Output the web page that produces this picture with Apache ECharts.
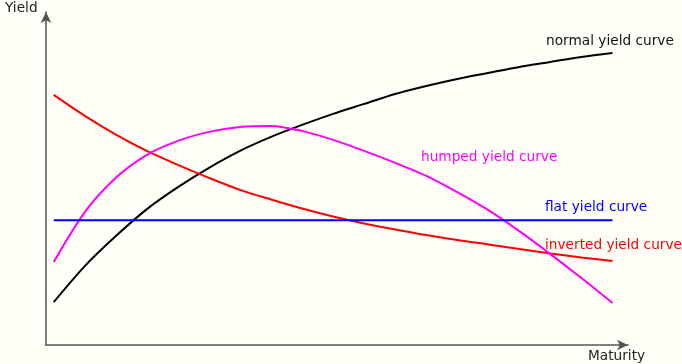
<!DOCTYPE html>
<html>
<head>
<meta charset="utf-8">
<script src="https://cdn.jsdelivr.net/npm/echarts@6/dist/echarts.min.js"></script>
<style>
  html, body { margin: 0; padding: 0; background: #fffff8; }
  #chart { width: 682px; height: 364px; }
</style>
</head>
<body>
<div id="chart"></div>
<script>
// maturity points (years) shared by all curves
var maturity = [0.4, 2.0, 3.6, 5.2, 6.8, 8.4, 10.0, 11.6, 13.2, 14.8, 16.4, 18.0, 19.6, 21.2, 22.8, 24.4, 26.0, 27.6, 29.2];
var normalYield   = [1.29, 2.37, 3.27, 4.08, 4.74, 5.32, 5.83, 6.25, 6.61, 6.94, 7.24, 7.54, 7.78, 7.99, 8.17, 8.35, 8.50, 8.65, 8.77];
var invertedYield = [7.51, 6.88, 6.32, 5.83, 5.41, 5.02, 4.66, 4.37, 4.10, 3.86, 3.65, 3.47, 3.30, 3.15, 3.02, 2.88, 2.75, 2.63, 2.52];
var humpedYield   = [2.49, 3.99, 5.02, 5.71, 6.13, 6.40, 6.55, 6.58, 6.43, 6.16, 5.83, 5.47, 5.08, 4.59, 4.05, 3.42, 2.73, 2.01, 1.26];
var flatYield     = [3.75, 3.75, 3.75, 3.75, 3.75, 3.75, 3.75, 3.75, 3.75, 3.75, 3.75, 3.75, 3.75, 3.75, 3.75, 3.75, 3.75, 3.75, 3.75];

var fontFam = "'DejaVu Sans', sans-serif";

function pairs(ys) {
  return maturity.map(function (m, i) { return [m, ys[i]]; });
}

function curve(name, ys, color) {
  return {
    name: name,
    type: "line",
    smooth: 0.3,
    showSymbol: false,
    silent: true,
    lineStyle: { color: color, width: 2 },
    data: pairs(ys)
  };
}

function label(text, x, y, color) {
  return {
    type: "text",
    x: x,
    y: y,
    style: { text: text, fill: color, font: "13.7px " + fontFam, verticalAlign: "middle" }
  };
}

var chart = echarts.init(document.getElementById("chart"));
var axisLine = {
  show: true,
  symbol: ["none", "arrow"],
  symbolSize: [8, 11],
  lineStyle: { color: "#555", width: 1.5 }
};
chart.setOption({
  backgroundColor: "#fffff8",
  animation: false,
  grid: { left: 46, right: 54, top: 12, bottom: 19 },
  xAxis: {
    type: "value", min: 0, max: 30,
    axisLine: axisLine,
    axisTick: { show: false }, axisLabel: { show: false }, splitLine: { show: false }
  },
  yAxis: {
    type: "value", min: 0, max: 10,
    axisLine: axisLine,
    axisTick: { show: false }, axisLabel: { show: false }, splitLine: { show: false }
  },
  graphic: [
    label("Yield", 5, 8, "#222"),
    label("Maturity", 588, 356, "#222"),
    label("normal yield curve", 546, 41, "#111"),
    label("humped yield curve", 421, 157, "#ff00ff"),
    label("flat yield curve", 545, 207, "#0000ff"),
    label("inverted yield curve", 545, 245, "#ff0000")
  ],
  series: [
    curve("normal", normalYield, "#000000"),
    curve("inverted", invertedYield, "#ff0000"),
    curve("humped", humpedYield, "#ff00ff"),
    curve("flat", flatYield, "#0000ff")
  ]
});
</script>
</body>
</html>
